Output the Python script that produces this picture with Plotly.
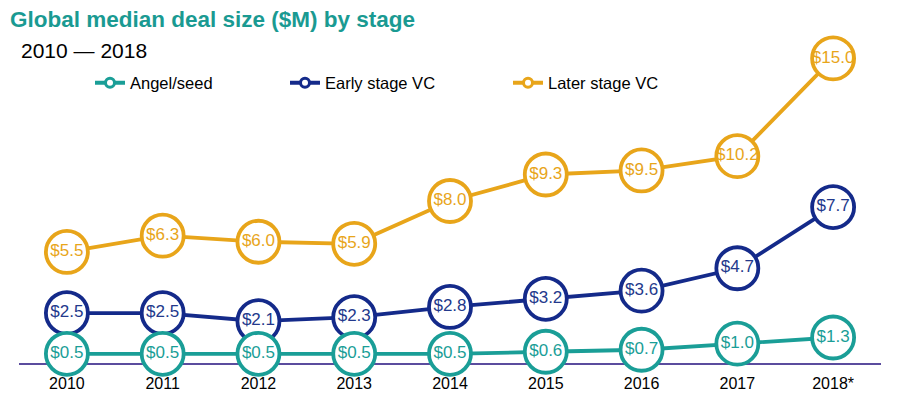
import plotly.graph_objects as go

years = ["2010", "2011", "2012", "2013", "2014", "2015", "2016", "2017", "2018*"]
angel_seed = [0.5, 0.5, 0.5, 0.5, 0.5, 0.6, 0.7, 1.0, 1.3]
early_vc = [2.5, 2.5, 2.1, 2.3, 2.8, 3.2, 3.6, 4.7, 7.7]
later_vc = [5.5, 6.3, 6.0, 5.9, 8.0, 9.3, 9.5, 10.2, 15.0]

series_names = ["Angel/seed", "Early stage VC", "Later stage VC"]
series_values = [angel_seed, early_vc, later_vc]
colors = ["#1a9e97", "#142a8a", "#e8a51a"]
text_colors = ["#1a9e97", "#23398c", "#e8a51a"]
legend_ids = ["legend", "legend2", "legend3"]

FONT = "Liberation Sans, Arial, sans-serif"
W, H = 892, 389
L, R, T, B = 11, 19, 30, 33
PW, PH = W - L - R, H - T - B


def px_x(px):
    return (px - L) / PW


def px_y(py):
    return (H - B - py) / PH


legend_x = [px_x(82), px_x(277), px_x(500)]

fig = go.Figure()

for name, vals, col, tcol in reversed(list(zip(series_names, series_values, colors, text_colors))):
    fig.add_trace(go.Scatter(
        x=years, y=vals, name=name, showlegend=False,
        mode="lines+markers+text",
        line=dict(color=col, width=3.8),
        marker=dict(size=42, color="white", line=dict(color=col, width=3.8)),
        text=[f"${v:.1f}" for v in vals],
        textposition="middle center",
        textfont=dict(family=FONT, size=17, color=tcol),
        cliponaxis=False,
        hoverinfo="skip",
    ))

for name, col, lid in zip(series_names, colors, legend_ids):
    fig.add_trace(go.Scatter(
        x=[None], y=[None], name=name, mode="lines+markers",
        line=dict(color=col, width=3.8),
        marker=dict(size=9, color="white", line=dict(color=col, width=3)),
        legend=lid, showlegend=True,
    ))

legend_common = dict(
    orientation="h", yanchor="middle", y=px_y(75), xanchor="left",
    bgcolor="rgba(0,0,0,0)", borderwidth=0,
    font=dict(family=FONT, size=16.5, color="black"),
)

fig.update_layout(
    width=W, height=H,
    margin=dict(l=L, r=R, t=T, b=B, autoexpand=False),
    paper_bgcolor="white", plot_bgcolor="white",
    font=dict(family=FONT, color="black"),
    title=dict(
        text="<b>Global median deal size ($M) by stage</b>",
        font=dict(family=FONT, size=22.5, color="#1a9a92"),
        xref="container", yref="container", x=2 / W, xanchor="left",
        y=1 - 11 / H, yanchor="middle",
    ),
    legend=dict(x=legend_x[0], **legend_common),
    legend2=dict(x=legend_x[1], **legend_common),
    legend3=dict(x=legend_x[2], **legend_common),
    xaxis=dict(
        type="category", range=[-0.5, 8.5], automargin=False,
        showgrid=False, zeroline=False,
        showline=False, ticks="", ticklabelstandoff=8,
        tickfont=dict(family=FONT, size=16, color="black"),
        fixedrange=True,
    ),
    yaxis=dict(
        range=[0, 16], automargin=False, showgrid=False, zeroline=True,
        zerolinecolor="#5b4c9e", zerolinewidth=1.5, showticklabels=False,
        showline=False, fixedrange=True,
    ),
    annotations=[dict(
        text="2010 — 2018", xref="paper", yref="paper",
        x=px_x(11), y=px_y(42), xanchor="left", yanchor="middle",
        showarrow=False,
        font=dict(family=FONT, size=21, color="black"),
    )],
)

fig.write_html("out.html")
